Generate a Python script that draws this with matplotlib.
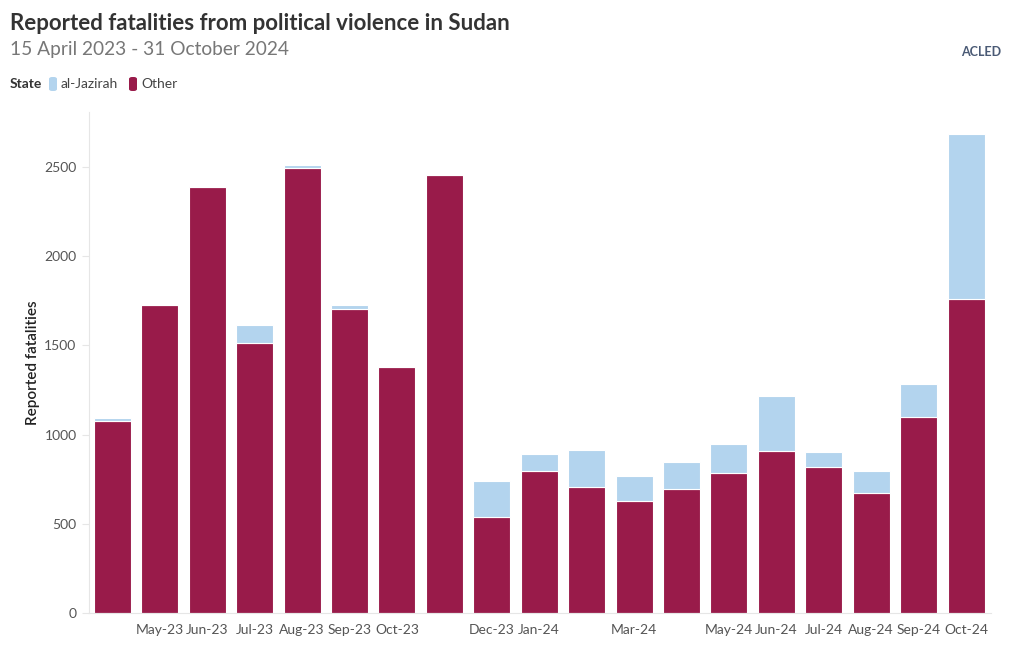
import matplotlib.pyplot as plt
from matplotlib.patches import FancyBboxPatch

plt.rcParams['font.family'] = ['Lato', 'DejaVu Sans']

months = ['Apr-23', 'May-23', 'Jun-23', 'Jul-23', 'Aug-23', 'Sep-23', 'Oct-23', 'Nov-23',
          'Dec-23', 'Jan-24', 'Feb-24', 'Mar-24', 'Apr-24', 'May-24', 'Jun-24', 'Jul-24',
          'Aug-24', 'Sep-24', 'Oct-24']
tick_labels = ['', 'May-23', 'Jun-23', 'Jul-23', 'Aug-23', 'Sep-23', 'Oct-23', '',
               'Dec-23', 'Jan-24', '', 'Mar-24', '', 'May-24', 'Jun-24', 'Jul-24',
               'Aug-24', 'Sep-24', 'Oct-24']
other = [1076, 1726, 2388, 1513, 2494, 1704, 1379, 2455,
         538, 796, 706, 628, 695, 785, 908, 818, 673, 1099, 1760]
jazirah = [17, 5, 0, 101, 17, 22, 0, 0,
           202, 95, 208, 140, 151, 162, 308, 84, 123, 185, 925]

C_OTHER = '#991b4a'
C_JAZ = '#b3d4ee'

fig = plt.figure(figsize=(10.2, 6.5), dpi=100)
ax = fig.add_axes([0.0873, 0.0569, 0.884, 0.7708])

x = list(range(len(months)))
ax.bar(x, other, width=0.78, color=C_OTHER, edgecolor='white', linewidth=0.8)
ax.bar(x, jazirah, bottom=other, width=0.78, color=C_JAZ, edgecolor='white', linewidth=0.8)

ax.set_xlim(-0.49, 18.52)
ax.set_ylim(0, 2808)
ax.set_yticks([0, 500, 1000, 1500, 2000, 2500])
ax.set_xticks(x)
ax.set_xticklabels(tick_labels)
ax.tick_params(axis='y', length=5, color='#e6e6e6', labelsize=10, labelcolor='#555555', pad=4)
ax.tick_params(axis='x', length=0, labelsize=10, labelcolor='#555555', pad=8)
for side in ['top', 'right']:
    ax.spines[side].set_visible(False)
for side in ['left', 'bottom']:
    ax.spines[side].set_color('#e6e6e6')
    ax.spines[side].set_linewidth(0.8)
ax.set_ylabel('Reported fatalities', fontsize=11, fontweight='semibold', color='#222222', labelpad=3)

# title block
fig.text(10 / 1020, 1 - 24 / 650, 'Reported fatalities from political violence in Sudan',
         fontsize=16, fontweight='bold', color='#333333', va='center', ha='left')
fig.text(10 / 1020, 1 - 49 / 650, '15 April 2023 - 31 October 2024',
         fontsize=13.8, color='#777777', va='center', ha='left')

# legend
fig.text(10 / 1020, 1 - 84 / 650, 'State', fontsize=10, fontweight='bold', color='#333333',
         va='center', ha='left')
for x0, col, lab in [(49, C_JAZ, 'al-Jazirah'), (129, C_OTHER, 'Other')]:
    fig.patches.append(FancyBboxPatch((x0 / 1020, 1 - 91 / 650), 8 / 1020, 14 / 650,
                                      boxstyle='round,pad=0,rounding_size=0.003',
                                      transform=fig.transFigure, facecolor=col, edgecolor='none'))
    fig.text((x0 + 12) / 1020, 1 - 84 / 650, lab, fontsize=10, color='#444444',
             va='center', ha='left')

# logo text
fig.text(981 / 1020, 1 - 52 / 650, 'ACLED', fontsize=9, fontweight='bold', color='#4a5a75',
         va='center', ha='center')

fig.savefig('out.png', dpi=100)
